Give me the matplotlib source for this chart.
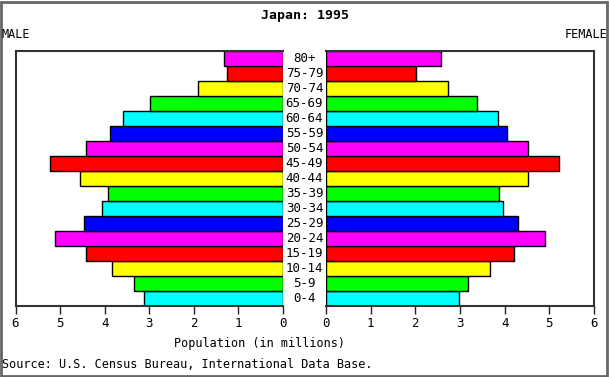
import matplotlib
matplotlib.use("Agg")
import matplotlib.pyplot as plt
import matplotlib.transforms as mtransforms
from matplotlib.patches import Rectangle

plt.rcParams['font.family'] = ['DejaVu Sans Mono']

ages = ['0-4', '5-9', '10-14', '15-19', '20-24', '25-29', '30-34', '35-39',
        '40-44', '45-49', '50-54', '55-59', '60-64', '65-69', '70-74',
        '75-79', '80+']
male = [3.12, 3.34, 3.83, 4.42, 5.11, 4.46, 4.06, 3.92,
        4.55, 5.22, 4.42, 3.88, 3.59, 2.98, 1.91, 1.26, 1.32]
female = [2.98, 3.18, 3.67, 4.21, 4.90, 4.30, 3.96, 3.87,
          4.52, 5.21, 4.52, 4.05, 3.85, 3.38, 2.73, 2.01, 2.57]
palette = ['#00ffff', '#00ff00', '#ffff00', '#ff0000', '#ff00ff', '#0000ff']
ticks = [0, 1, 2, 3, 4, 5, 6]

colors = [palette[i % len(palette)] for i in range(len(ages))]
ypos = list(range(len(ages)))

fig = plt.figure(figsize=(6.1, 3.77), dpi=100)
W, H = 610.0, 377.0

def box(x0, y0, x1, y1):
    return [x0 / W, 1 - y1 / H, (x1 - x0) / W, (y1 - y0) / H]

ax_l = fig.add_axes(box(15.5, 51, 283, 306))
ax_r = fig.add_axes(box(326, 51, 594, 306))

ax_l.barh(ypos, male, height=1.0, color=colors, edgecolor='black', linewidth=1)
ax_r.barh(ypos, female, height=1.0, color=colors, edgecolor='black', linewidth=1)

for ax in (ax_l, ax_r):
    ax.set_ylim(-0.5, len(ages) - 0.5)
    ax.set_yticks([])
    ax.set_xticks(ticks)
    ax.tick_params(axis='x', direction='out', length=6, width=1,
                   labelsize=9, pad=2, color='#222222')
    for s in ax.spines.values():
        s.set_linewidth(1.5)
        s.set_color('#333333')

ax_l.set_xlim(6, 0)
ax_r.set_xlim(0, 6)
ax_l.spines['right'].set_visible(False)
ax_r.spines['left'].set_visible(False)

trans = mtransforms.blended_transform_factory(fig.transFigure, ax_l.transData)
for y, lab in zip(ypos, ages):
    ax_l.text(304.5 / W, y, lab, transform=trans, ha='center', va='center',
              fontsize=9, clip_on=False)

fig.text(305 / W, 1 - 15 / H, 'Japan: 1995', ha='center', va='center',
         fontsize=9.5, fontweight='bold')
fig.text(2 / W, 1 - 35 / H, 'MALE', ha='left', va='center', fontsize=8.5)
fig.text(607 / W, 1 - 35 / H, 'FEMALE', ha='right', va='center', fontsize=8.5)
fig.text(260 / W, 1 - 344 / H, 'Population (in millions)', ha='center',
         va='center', fontsize=8.5)
fig.text(2 / W, 1 - 364 / H, 'Source: U.S. Census Bureau, International Data Base.',
         ha='left', va='center', fontsize=8.5)

fig.patches.append(Rectangle((0.5 / W, 1.5 / H), 606 / W, 373.5 / H,
                             transform=fig.transFigure, fill=False,
                             edgecolor='#666666', linewidth=2))

fig.savefig('out.png', dpi=100)
